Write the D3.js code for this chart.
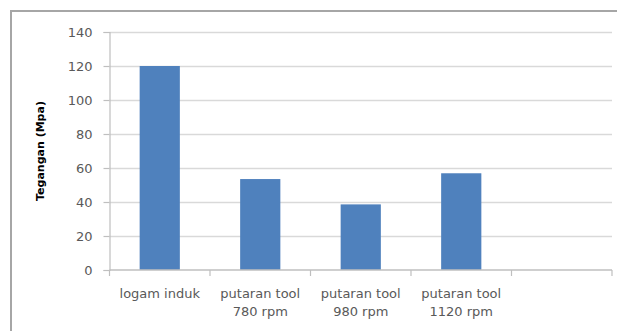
<!DOCTYPE html>
<html>
<head>
<meta charset="utf-8">
<script src="https://cdn.jsdelivr.net/npm/d3@7"></script>
<style>
  html, body { margin: 0; padding: 0; background: #ffffff; }
  svg { display: block; }
</style>
</head>
<body>
<svg id="chart" width="617" height="331"></svg>
<script>
// Categories (the last slot is an empty category on the axis)
const categories = ["logam induk", "putaran tool\n780 rpm", "putaran tool\n980 rpm", "putaran tool\n1120 rpm", ""];
// Tegangan (Mpa) per category
const values = [120, 53.5, 38.6, 56.9, null];
// Y-axis tick values
const yTicks = [0, 20, 40, 60, 80, 100, 120, 140];
const yTitle = "Tegangan (Mpa)";

const svg = d3.select("#chart");
const W = 617, H = 331;
const plot = { left: 109.5, right: 612, top: 32, bottom: 270 };

// Outer chart frame (runs off the right and bottom edges)
svg.append("rect")
  .attr("x", 11).attr("y", 11)
  .attr("width", W + 20).attr("height", H + 20)
  .attr("fill", "#ffffff")
  .attr("stroke", "#a6a6a6")
  .attr("stroke-width", 2);

const x = d3.scaleBand()
  .domain(d3.range(categories.length))
  .range([plot.left, plot.right])
  .paddingInner(0)
  .paddingOuter(0);

const y = d3.scaleLinear()
  .domain([0, 140])
  .range([plot.bottom, plot.top]);

// Horizontal gridlines
svg.append("g")
  .selectAll("line")
  .data(yTicks.filter(d => d > 0))
  .join("line")
  .attr("x1", plot.left).attr("x2", plot.right)
  .attr("y1", d => Math.round(y(d)) + 0.5).attr("y2", d => Math.round(y(d)) + 0.5)
  .attr("stroke", "#d9d9d9")
  .attr("stroke-width", 1.5);

// Bars (Excel-style gap width of 150%)
const barW = x.bandwidth() / 2.5;
svg.append("g")
  .selectAll("rect")
  .data(values.map((v, i) => ({ v, i })).filter(d => d.v != null))
  .join("rect")
  .attr("x", d => x(d.i) + (x.bandwidth() - barW) / 2)
  .attr("y", d => y(d.v))
  .attr("width", barW)
  .attr("height", d => y(0) - y(d.v))
  .attr("fill", "#4f81bd");

// Y axis
const yAxis = d3.axisLeft(y)
  .tickValues(yTicks)
  .tickSize(6)
  .tickPadding(11)
  .tickFormat(d3.format("d"));

const gy = svg.append("g")
  .attr("transform", `translate(${plot.left},0)`)
  .call(yAxis);
gy.select(".domain").attr("stroke", "#bfbfbf").attr("stroke-width", 1.2);
gy.selectAll(".tick line").attr("stroke", "#bfbfbf").attr("stroke-width", 1.2);
gy.selectAll(".tick text")
  .attr("fill", "#595959")
  .style("font-family", "'DejaVu Sans', sans-serif")
  .style("font-size", "13px");

// X axis: ticks sit on the category boundaries
const boundaries = d3.range(categories.length + 1).map(i => plot.left + i * x.bandwidth());
const gx = svg.append("g");
gx.append("line")
  .attr("x1", plot.left).attr("x2", plot.right)
  .attr("y1", plot.bottom).attr("y2", plot.bottom)
  .attr("stroke", "#bfbfbf").attr("stroke-width", 1.5);
gx.selectAll("line.tick")
  .data(boundaries)
  .join("line")
  .attr("class", "tick")
  .attr("x1", d => d).attr("x2", d => d)
  .attr("y1", plot.bottom).attr("y2", plot.bottom + 6)
  .attr("stroke", "#bfbfbf").attr("stroke-width", 1.2);

// Category labels (wrapped on two lines)
const catText = gx.selectAll("text.cat")
  .data(categories)
  .join("text")
  .attr("class", "cat")
  .attr("text-anchor", "middle")
  .attr("fill", "#595959")
  .style("font-family", "'DejaVu Sans', sans-serif")
  .style("font-size", "13px");
catText.each(function (d, i) {
  const lines = d.split("\n");
  d3.select(this).selectAll("tspan")
    .data(lines)
    .join("tspan")
    .attr("x", x(i) + x.bandwidth() / 2)
    .attr("y", (l, j) => 298 + j * 18)
    .text(l => l);
});

// Y-axis title
svg.append("text")
  .attr("transform", `translate(44,${(plot.top + plot.bottom) / 2}) rotate(-90)`)
  .attr("text-anchor", "middle")
  .attr("fill", "#000000")
  .style("font-family", "'DejaVu Sans', sans-serif")
  .style("font-size", "11px")
  .style("font-weight", "bold")
  .text(yTitle);
</script>
</body>
</html>
